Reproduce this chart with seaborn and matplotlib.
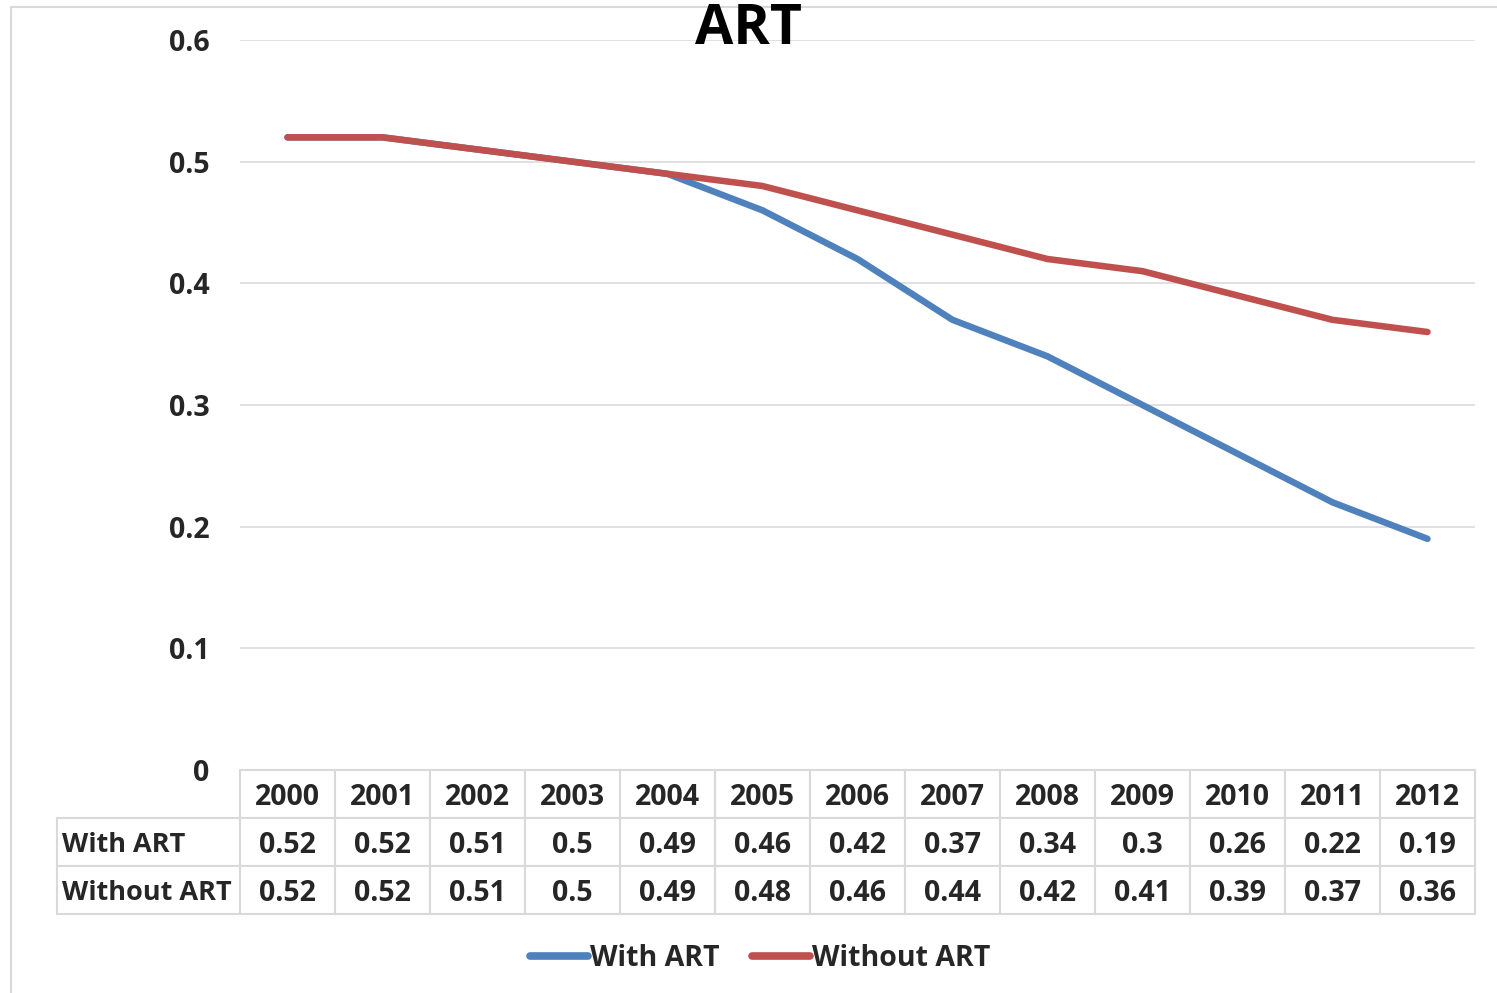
import pandas as pd
import seaborn as sns
import matplotlib.pyplot as plt
from matplotlib.patches import Rectangle

years = list(range(2000, 2013))
with_art = [0.52, 0.52, 0.51, 0.5, 0.49, 0.46, 0.42, 0.37, 0.34, 0.3, 0.26, 0.22, 0.19]
without_art = [0.52, 0.52, 0.51, 0.5, 0.49, 0.48, 0.46, 0.44, 0.42, 0.41, 0.39, 0.37, 0.36]
series_names = ['With ART', 'Without ART']
y_ticks = [0, 0.1, 0.2, 0.3, 0.4, 0.5, 0.6]
y_tick_labels = ['0', '0.1', '0.2', '0.3', '0.4', '0.5', '0.6']

df = pd.DataFrame({
    'Year': years * 2,
    'Value': with_art + without_art,
    'Series': [series_names[0]] * len(years) + [series_names[1]] * len(years),
})

sns.set_theme(style='white')
plt.rcParams['font.family'] = ['Open Sans', 'DejaVu Sans']
plt.rcParams['font.weight'] = 'bold'

GRID = '#d9d9d9'
FS = 20.5
fig = plt.figure(figsize=(14.97, 9.93), dpi=100)
ax = fig.add_axes([240 / 1497, 1 - 770 / 993, 1235 / 1497, 730 / 993])

sns.lineplot(data=df, x='Year', y='Value', hue='Series',
             palette={'With ART': '#4F81BD', 'Without ART': '#C0504D'},
             linewidth=4.7, ax=ax, legend=True)
for ln in ax.get_lines():
    ln.set_solid_capstyle('round')

ax.set_xlim(years[0] - 0.5, years[-1] + 0.5)
ax.set_ylim(0, 0.6)
ax.set_yticks(y_ticks)
ax.set_yticklabels(y_tick_labels, fontsize=FS, fontweight='bold')
ax.tick_params(axis='y', length=0, pad=22)
ax.set_xticks([])
ax.set_xlabel('')
ax.set_ylabel('')
ax.yaxis.grid(True, color=GRID, linewidth=1.1)
ax.set_axisbelow(True)
for s in ax.spines.values():
    s.set_visible(False)

# data table under the plot
cell_text = [[''] + [str(y) for y in years],
             [series_names[0]] + [f'{v:g}' for v in with_art],
             [series_names[1]] + [f'{v:g}' for v in without_art]]
total_w = 1475 - 57
col_w = [183 / total_w] + [95 / total_w] * len(years)
tbl = ax.table(cellText=cell_text, colWidths=col_w, cellLoc='center',
               bbox=[(57 - 240) / 1235, -(914 - 770) / 730, total_w / 1235, 144 / 730])
tbl.auto_set_font_size(False)
tbl.set_fontsize(FS)
for (r, c), cell in tbl.get_celld().items():
    cell.set_edgecolor(GRID)
    cell.set_linewidth(1.5)
    txt = cell.get_text()
    txt.set_fontweight('bold')
    txt.set_va('center_baseline')
    if c == 0:
        txt.set_ha('left')
        txt.set_fontsize(19.5)
        cell.PAD = 0.025
        if r == 0:
            cell.visible_edges = ''

handles, labels = ax.get_legend_handles_labels()
leg = ax.legend(handles, labels, loc='center', bbox_to_anchor=(760 / 1497, 1 - 958 / 993),
                bbox_transform=fig.transFigure, ncol=2, frameon=False,
                prop={'size': FS, 'weight': 'bold'}, handlelength=2.05,
                handletextpad=0.05, columnspacing=1.15)
for h in leg.get_lines():
    h.set_linewidth(5.5)
    h.set_solid_capstyle('round')

fig.text(0.5, 1 - 44 / 993, 'ART', ha='center', va='baseline',
         fontsize=40, fontweight='bold', color='black')

fig.patches.append(Rectangle((11 / 1497, -0.05), 1.1, 1.05 - 7 / 993,
                             transform=fig.transFigure, fill=False,
                             edgecolor=GRID, linewidth=1.5, zorder=0))

plt.savefig('out.png', dpi=100)
